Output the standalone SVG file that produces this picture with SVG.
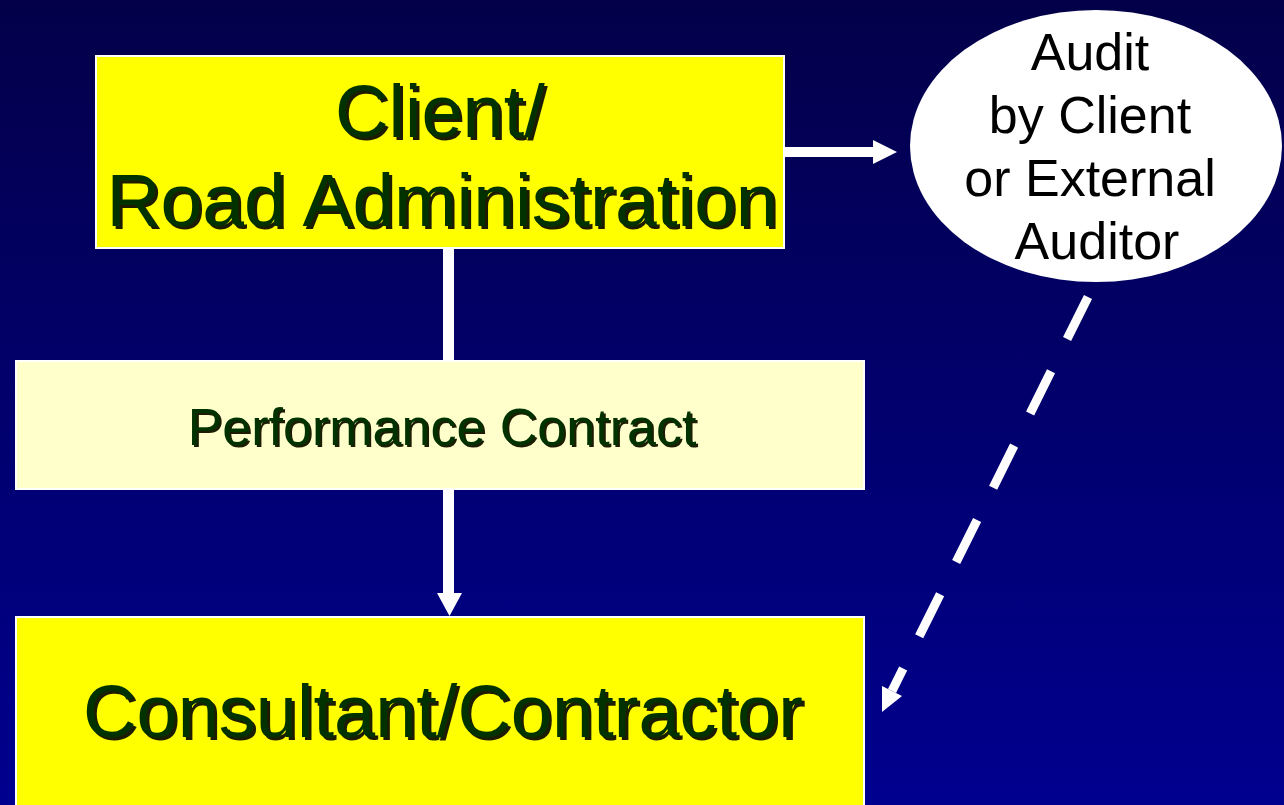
<svg xmlns="http://www.w3.org/2000/svg" width="1284" height="805" viewBox="0 0 1284 805">
<defs>
<linearGradient id="bg" x1="0" y1="0" x2="0" y2="1">
<stop offset="0" stop-color="#030049"/>
<stop offset="1" stop-color="#00008f"/>
</linearGradient>
<filter id="shadow" x="-5%" y="-10%" width="110%" height="130%">
<feOffset in="SourceAlpha" dx="3" dy="3" result="off"/>
<feFlood flood-color="#1c1c00"/>
<feComposite in2="off" operator="in" result="sh"/>
<feMerge><feMergeNode in="sh"/><feMergeNode in="SourceGraphic"/></feMerge>
</filter>
<filter id="shadow2" x="-5%" y="-10%" width="110%" height="130%">
<feOffset in="SourceAlpha" dx="2" dy="2" result="off"/>
<feFlood flood-color="#1c1c00"/>
<feComposite in2="off" operator="in" result="sh"/>
<feMerge><feMergeNode in="sh"/><feMergeNode in="SourceGraphic"/></feMerge>
</filter>
</defs>
<style>
.box{stroke:#ffffff;stroke-width:2}
.t{font-family:"Liberation Sans",Arial,sans-serif;text-anchor:middle;fill:#003300;filter:url(#shadow)}
.t2{font-family:"Liberation Sans",Arial,sans-serif;text-anchor:middle;fill:#003300;filter:url(#shadow2)}
.el{font-family:"Liberation Sans",Arial,sans-serif;text-anchor:middle;fill:#000000;font-size:52px}
.w{fill:#ffffff}
</style>
<rect x="0" y="0" width="1284" height="805" fill="url(#bg)"/>
<g id="connectors">
<rect class="w" x="784" y="147" width="91" height="10"/>
<polygon class="w" points="873,140 897,152 873,164"/>
<rect class="w" x="443" y="248" width="11" height="113"/>
<rect class="w" x="443" y="489" width="11" height="106"/>
<polygon class="w" points="437,593 462,593 449.5,616"/>
<line x1="1088" y1="297" x2="892" y2="691" stroke="#ffffff" stroke-width="9" stroke-dasharray="47 36"/>
<polygon class="w" points="882,712 902,696 882,686"/>
</g>
<g id="client">
<rect class="box" x="96" y="56" width="688" height="192" fill="#ffff00"/>
<text class="t" x="440" y="137" font-size="74">Client/</text>
<text class="t" x="442" y="226" font-size="75">Road Administration</text>
</g>
<g id="audit">
<ellipse cx="1096" cy="146" rx="186" ry="136" fill="#ffffff"/>
<text class="el" x="1090" y="70">Audit</text>
<text class="el" x="1090" y="133">by Client</text>
<text class="el" x="1090" y="196">or External</text>
<text class="el" x="1097" y="259">Auditor</text>
</g>
<g id="performance">
<rect class="box" x="16" y="361" width="848" height="128" fill="#ffffcc"/>
<text class="t2" x="442" y="445" font-size="52">Performance Contract</text>
</g>
<g id="consultant">
<rect class="box" x="16" y="617" width="848" height="200" fill="#ffff00"/>
<text class="t" x="443" y="737" font-size="74">Consultant/Contractor</text>
</g>
</svg>
